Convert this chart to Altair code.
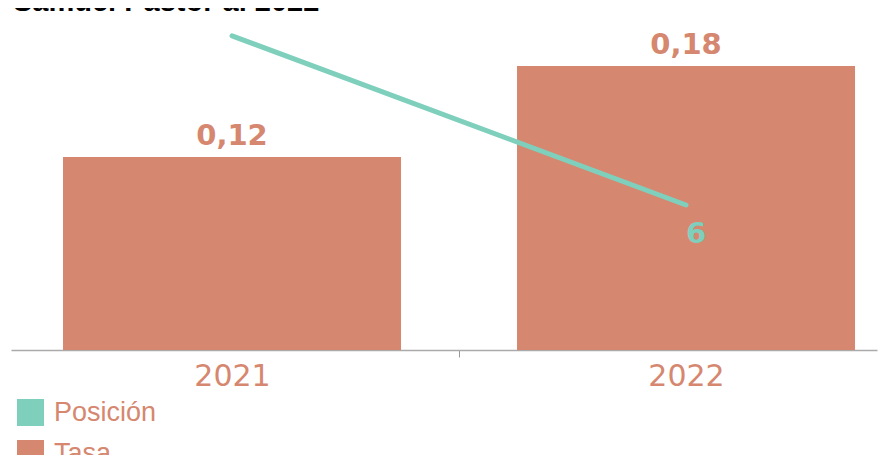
import altair as alt
import pandas as pd

# ---- data ----
anios = ["2021", "2022"]
tasa = [0.121, 0.178]
posicion = [13, 6]
series = ["Posición", "Tasa"]
titulo = ["Samuel Pastor al 2022"]

TEAL = "#7fcfbd"
SALMON = "#d6876f"

df = pd.DataFrame({"anio": anios, "tasa": tasa, "posicion": posicion, "serie": "Tasa"})
base = alt.Chart(df)

x_enc = alt.X(
    "anio:N",
    scale=alt.Scale(paddingInner=0.2555, paddingOuter=0.0815, align=0.703),
    axis=alt.Axis(
        title=None, labelAngle=0, labelFont="DejaVu Sans", labelFontSize=30,
        labelColor=SALMON, labelPadding=4, tickSize=7,
        tickOffset=-227, labelOffset=227,
        tickColor="#999999", tickWidth=1, domainColor="#aaaaaa", domainWidth=1.5,
        grid=False,
    ),
)

bar = base.mark_bar(color=SALMON).encode(
    x=x_enc,
    y=alt.Y("tasa:Q", scale=alt.Scale(domain=[0, 0.2], nice=False), axis=None),
    color=alt.Color(
        "serie:N",
        scale=alt.Scale(domain=series, range=[TEAL, SALMON]),
        legend=alt.Legend(
            title=None, orient="none", legendX=6, legendY=368, direction="vertical",
            symbolType="square", symbolSize=729, symbolStrokeWidth=0,
            labelFont="Liberation Sans", labelFontSize=27, labelColor=SALMON,
            labelOffset=10, rowPadding=13,
        ),
    ),
)

bar_text = base.transform_calculate(
    etiqueta="replace(format(datum.tasa, '.2f'), '.', ',')"
).mark_text(
    font="DejaVu Sans", fontWeight="bold", fontSize=29, color=SALMON,
    baseline="alphabetic", dy=-12,
).encode(
    x=alt.X("anio:N"),
    y=alt.Y("tasa:Q"),
    text="etiqueta:N",
)

line = base.mark_line(color=TEAL, strokeWidth=5, strokeCap="round").encode(
    x=alt.X("anio:N"),
    y=alt.Y("posicion:Q", scale=alt.Scale(domain=[0, 13.2], nice=False), axis=None),
)

line_text = base.transform_filter(f"datum.anio == '{anios[-1]}'").mark_text(
    font="DejaVu Sans", fontWeight="bold", fontSize=29, color=TEAL,
    baseline="alphabetic", dx=10, dy=38,
).encode(
    x=alt.X("anio:N"),
    y=alt.Y("posicion:Q"),
    text="posicion:Q",
)

# chart title, mostly cut off at the top edge as in the reference
title_text = alt.Chart(pd.DataFrame({"t": titulo})).mark_text(
    font="Liberation Sans", fontWeight="bold", fontSize=29, color="#000000",
    align="left", baseline="alphabetic",
).encode(
    text="t:N",
    x=alt.value(2),
    y=alt.value(-20),
)

chart = alt.layer(
    alt.layer(bar, bar_text),
    alt.layer(line, line_text),
    title_text,
).resolve_scale(y="independent").properties(
    width=866, height=319,
    padding={"left": 3, "top": 23, "right": 1, "bottom": 105},
    autosize=alt.AutoSizeParams(type="none"),
).configure_view(stroke=None)

chart.save("out.html", embed_options={"renderer": "svg", "actions": False})
